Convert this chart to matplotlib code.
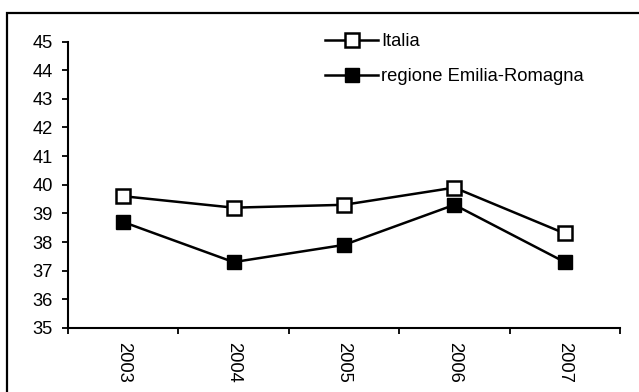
import matplotlib
matplotlib.use('Agg')
import matplotlib.pyplot as plt
from matplotlib.patches import Rectangle
import numpy as np

plt.rcParams['font.family'] = ['Liberation Sans', 'DejaVu Sans']

# dati
anni = ['2003', '2004', '2005', '2006', '2007']
italia = [39.6, 39.2, 39.3, 39.9, 38.3]
emilia = [38.7, 37.3, 37.9, 39.3, 37.3]
y_ticks = list(range(35, 46))

W, H, DPI = 639, 392, 100
fig = plt.figure(figsize=(W / DPI, H / DPI), dpi=DPI)
FS = 13.2

# area del grafico (in pixel)
left, right, top, bottom = 68, 620, 41.5, 328
ax = fig.add_axes([left / W, 1 - bottom / H, (right - left) / W, (bottom - top) / H])

x = np.arange(len(anni))
ax.plot(x, italia, color='black', linewidth=1.8, marker='s', markersize=10,
        markerfacecolor='white', markeredgecolor='black', markeredgewidth=1.8,
        label='Italia')
ax.plot(x, emilia, color='black', linewidth=1.8, marker='s', markersize=10,
        markerfacecolor='black', markeredgecolor='black', label='regione Emilia-Romagna')

ax.set_xlim(-0.5, len(anni) - 0.5)
ax.set_ylim(35, 45)
ax.set_yticks(y_ticks)

# tacche ai confini delle categorie, etichette al centro
ax.set_xticks(np.arange(-0.5, len(anni), 1.0))
ax.set_xticklabels([])
ax.set_xticks(x, minor=True)
ax.set_xticklabels(anni, minor=True, rotation=-90, va='top', ha='center')
ax.tick_params(axis='x', which='major', direction='out', length=4, width=1.3)
ax.tick_params(axis='x', which='minor', length=0, pad=10, labelsize=FS)
ax.tick_params(axis='y', direction='out', length=4, width=1.3, pad=7, labelsize=FS)

for s in ['top', 'right']:
    ax.spines[s].set_visible(False)
for s in ['left', 'bottom']:
    ax.spines[s].set_linewidth(1.5)

leg = fig.legend(loc='upper left', bbox_to_anchor=(325 / W, 1 - 33 / H),
                 frameon=False, fontsize=FS, handlelength=2.9,
                 handletextpad=0.15, labelspacing=1.0, borderpad=0,
                 borderaxespad=0)

# cornice esterna
fig.patches.append(Rectangle((7 / W, -0.1), 1.2, 1 - 13 / H + 0.1,
                             transform=fig.transFigure, fill=False,
                             edgecolor='black', linewidth=1.6))

fig.savefig('out.png', dpi=DPI)
